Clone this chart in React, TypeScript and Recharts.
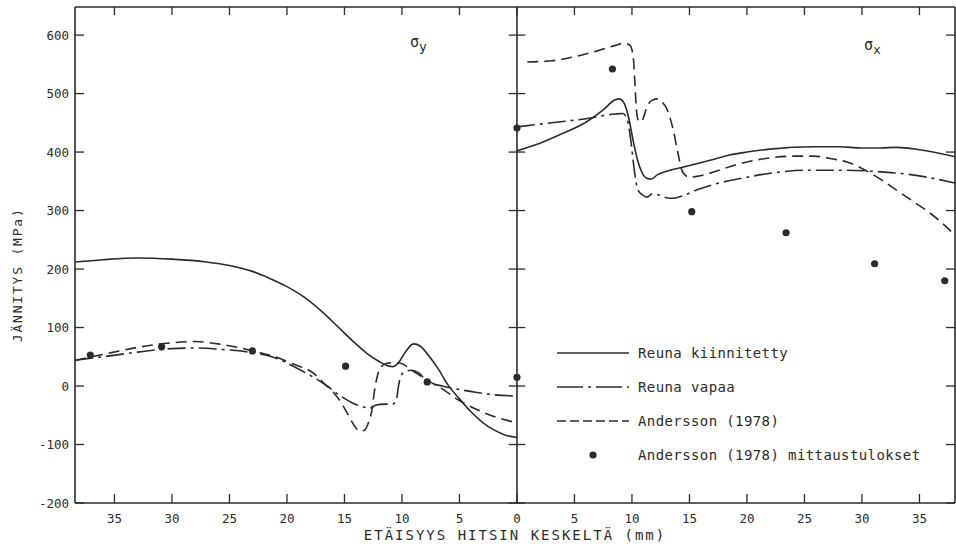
import React from 'react';
import { ComposedChart, Line, Scatter, XAxis, YAxis, ReferenceLine, Legend } from 'recharts';

const INK = '#2b2b2b';
const FONT = '"DejaVu Sans Mono", "Liberation Mono", monospace';

// distance from weld centre (mm), stress (MPa)
// sigma_y, left half
const syFixed: [number, number][] = [
  [38.4, 212], [36, 216], [33, 219], [30, 217], [27, 212], [25, 206], [23, 196], [21.5, 184],
  [20, 170], [18.5, 152], [17, 128], [15.5, 100], [14, 72], [13, 55], [12, 42], [11.3, 35],
  [10.8, 33], [10.3, 40], [9.7, 58], [9, 72], [8.4, 68], [7.6, 50], [6.8, 28], [6, 2],
  [5, -22], [4, -44], [3, -62], [2, -75], [1, -84], [0, -88],
];
const syFree: [number, number][] = [
  [38.4, 44], [36, 50], [33, 58], [30, 64], [28, 65], [26, 63], [23, 57], [21, 48], [19, 29],
  [17.7, 15], [16.5, 0], [15.7, -12], [14.3, -29], [13.3, -36], [12.8, -38], [12.3, -33],
  [11.5, -31], [10.8, -31], [10.5, -25], [10.3, 0], [10.1, 17], [9.7, 25], [9.2, 27],
  [8.5, 22], [7.8, 8], [6.5, 0], [5, -6], [3.5, -11], [2, -15], [0, -17],
];
const syAndersson: [number, number][] = [
  [38.4, 44], [36, 54], [33, 66], [30, 74], [28, 76], [26, 72], [24, 65], [23, 60], [21, 50],
  [19.5, 38], [17.7, 22], [16.8, 5], [16, -10], [15.3, -28], [14.8, -45], [14.2, -66],
  [13.7, -77], [13.3, -76], [12.9, -62], [12.6, -40], [12.4, -10], [12.1, 20], [11.8, 33],
  [11.3, 39], [10.6, 40], [10, 38], [9, 25], [7.8, 10], [6.5, -5], [5, -25], [3.5, -40],
  [2, -52], [0, -63],
];
const syMeasured: [number, number][] = [
  [37.1, 53], [30.9, 67], [23, 60], [14.9, 34], [7.8, 7], [0, 15],
];

// sigma_x, right half
const sxFixed: [number, number][] = [
  [0, 402], [2, 415], [4, 432], [6, 451], [7.5, 472], [8.5, 489], [8.9, 491], [9.3, 484],
  [9.7, 460], [10.1, 420], [10.5, 385], [10.9, 364], [11.3, 355], [11.7, 354], [12.2, 361],
  [13, 367], [14.4, 374], [16.8, 386], [18.5, 395], [20, 400], [22, 405], [25.8, 409],
  [28, 409], [30, 407], [31.6, 407], [33, 408], [35, 404], [38.1, 392],
];
const sxFree: [number, number][] = [
  [0, 443], [3, 450], [6, 457], [8.5, 465], [9.2, 466], [9.6, 455], [9.9, 420], [10.2, 370],
  [10.5, 336], [10.9, 327], [11.3, 323], [11.8, 329], [12.4, 326], [13, 322], [13.6, 321],
  [14.5, 326], [15.6, 335], [17, 344], [20, 357], [22.9, 366], [25, 369], [28.7, 369],
  [31, 367], [34.4, 361], [38.1, 347],
];
const sxAndersson: [number, number][] = [
  [0.9, 554], [3, 556], [5, 563], [7, 573], [8.5, 582], [9.3, 586], [9.8, 583], [10.1, 565],
  [10.25, 520], [10.4, 470], [10.6, 452], [10.9, 455], [11.3, 477], [11.7, 488], [12.2, 491],
  [12.6, 486], [13, 475], [13.6, 437], [14, 398], [14.4, 366], [15, 357], [15.5, 358],
  [16.8, 364], [18.5, 375], [20, 383], [22, 390], [24, 393], [25.8, 393], [27.5, 388],
  [28.7, 383], [30, 372], [31.5, 355], [33, 335], [34.5, 315], [35.9, 296], [37, 278],
  [38.1, 258],
];
const sxMeasured: [number, number][] = [
  [0, 441], [8.3, 542], [15.2, 298], [23.4, 262], [31.1, 209], [37.2, 180],
];

const seriesNames = ['Reuna kiinnitetty', 'Reuna vapaa', 'Andersson (1978)', 'Andersson (1978) mittaustulokset'];
const xTicks = [-35, -30, -25, -20, -15, -10, -5, 0, 5, 10, 15, 20, 25, 30, 35];
const yTicks = [-200, -100, 0, 100, 200, 300, 400, 500, 600];

const left = (pts: [number, number][]) => pts.map(([d, v]) => ({ x: -d, v }));
const right = (pts: [number, number][]) => pts.map(([d, v]) => ({ x: d, v }));

const DASH = ['', '18 5 3 5', '11 6'];

const BottomTick = (p: any) => (
  <g>
    <line x1={p.x} x2={p.x} y1={p.y} y2={p.y - 9} stroke={INK} strokeWidth={1.3} />
    <text x={p.x} y={p.y + 20} textAnchor="middle" fontSize={12.5} fontFamily={FONT} fill={INK}>
      {Math.abs(p.payload.value)}
    </text>
  </g>
);
const TopTick = (p: any) => (
  <line x1={p.x} x2={p.x} y1={p.y} y2={p.y + 8} stroke={INK} strokeWidth={1.3} />
);
const LeftTick = (p: any) => (
  <g>
    <line x1={p.x} x2={p.x + 9} y1={p.y} y2={p.y} stroke={INK} strokeWidth={1.3} />
    <text x={p.x - 6} y={p.y + 4.5} textAnchor="end" fontSize={12.5} fontFamily={FONT} fill={INK}>
      {p.payload.value}
    </text>
  </g>
);
const RightTick = (p: any) => (
  <line x1={p.x} x2={p.x - 9} y1={p.y} y2={p.y} stroke={INK} strokeWidth={1.3} />
);

const Dot = (p: any) => <circle cx={p.cx} cy={p.cy} r={3.6} fill={INK} />;

const LegendBox = (props: any) => {
  const seen = new Set<string>();
  const items = (props.payload || [])
    .filter((e: any) => seriesNames.includes(e.value) && !seen.has(e.value) && seen.add(e.value))
    .sort((a: any, b: any) => seriesNames.indexOf(a.value) - seriesNames.indexOf(b.value));
  return (
    <div style={{ fontFamily: FONT, fontSize: 14, color: INK, letterSpacing: 0.4, whiteSpace: 'nowrap' }}>
      {items.map((e: any) => {
        const i = seriesNames.indexOf(e.value);
        return (
          <div key={e.value} style={{ height: 34, display: 'flex', alignItems: 'center' }}>
            <svg width={72} height={10} style={{ marginRight: 9, flex: 'none' }}>
              {i < 3 ? (
                <line x1={0} x2={72} y1={5} y2={5} stroke={INK} strokeWidth={1.6}
                  strokeDasharray={i === 1 ? '26 5 3 5' : i === 2 ? '9 4' : undefined} />
              ) : (
                <circle cx={36} cy={5} r={3.6} fill={INK} />
              )}
            </svg>
            <span>{e.value}</span>
          </div>
        );
      })}
    </div>
  );
};

export default function App() {
  const lineProps = {
    type: 'monotone' as const,
    dataKey: 'v',
    stroke: INK,
    strokeWidth: 1.6,
    dot: false,
    activeDot: false,
    isAnimationActive: false,
    xAxisId: 'b',
    yAxisId: 'l',
  };
  return (
    <div style={{ position: 'absolute', left: 0, top: 0, width: 956, height: 548, background: '#fff' }}>
      <ComposedChart width={956} height={548} margin={{ top: 0, right: 0, bottom: 0, left: 0 }}>
        <XAxis xAxisId="b" dataKey="x" type="number" domain={[-38.43, 38.09]} allowDataOverflow
          ticks={xTicks} interval={0} tickSize={0} tickMargin={0} tick={<BottomTick />} tickLine={false}
          axisLine={{ stroke: INK, strokeWidth: 1.6 }} height={45} />
        <XAxis xAxisId="t" dataKey="x" type="number" orientation="top" domain={[-38.43, 38.09]} allowDataOverflow
          ticks={xTicks} interval={0} tickSize={0} tickMargin={0} tick={<TopTick />} tickLine={false}
          axisLine={{ stroke: INK, strokeWidth: 1.6 }} height={7} />
        <YAxis yAxisId="l" type="number" domain={[-200, 648]} allowDataOverflow ticks={yTicks} interval={0}
          tickSize={0} tickMargin={0} tick={<LeftTick />} tickLine={false}
          axisLine={{ stroke: INK, strokeWidth: 1.6 }} width={75}
          label={({ viewBox }: any) => {
            const cx = 19;
            const cy = viewBox.y + viewBox.height * 0.54;
            return (
              <text x={cx} y={cy} transform={`rotate(-90 ${cx} ${cy})`} textAnchor="middle"
                fontSize={13} fontFamily={FONT} letterSpacing={1.8} fill={INK} dominantBaseline="middle">
                JÄNNITYS (MPa)
              </text>
            );
          }} />
        <YAxis yAxisId="r" orientation="right" type="number" domain={[-200, 648]} allowDataOverflow ticks={yTicks}
          interval={0} tickSize={0} tickMargin={0} tick={<RightTick />} tickLine={false}
          axisLine={{ stroke: INK, strokeWidth: 1.6 }} width={1} />

        <ReferenceLine xAxisId="b" yAxisId="l" x={0} stroke={INK} strokeWidth={1.6} />
        {yTicks.map((t) => (
          <ReferenceLine key={t} xAxisId="b" yAxisId="l" stroke={INK} strokeWidth={1.3}
            segment={[{ x: -0.72, y: t }, { x: 0.72, y: t }]} />
        ))}

        <Line {...lineProps} data={left(syFixed)} name={seriesNames[0]} />
        <Line {...lineProps} data={left(syFree)} name={seriesNames[1]} strokeDasharray={DASH[1]} />
        <Line {...lineProps} data={left(syAndersson)} name={seriesNames[2]} strokeDasharray={DASH[2]} />
        <Line {...lineProps} data={right(sxFixed)} name={seriesNames[0] + ' x'} legendType="none" />
        <Line {...lineProps} data={right(sxFree)} name={seriesNames[1] + ' x'} strokeDasharray={DASH[1]} legendType="none" />
        <Line {...lineProps} data={right(sxAndersson)} name={seriesNames[2] + ' x'} strokeDasharray={DASH[2]} legendType="none" />
        <Scatter data={left(syMeasured)} dataKey="v" name={seriesNames[3]} xAxisId="b" yAxisId="l"
          shape={<Dot />} isAnimationActive={false} />
        <Scatter data={right(sxMeasured)} dataKey="v" name={seriesNames[3] + ' x'} xAxisId="b" yAxisId="l"
          shape={<Dot />} isAnimationActive={false} legendType="none" />

        <Legend layout="vertical" align="center" verticalAlign="middle" content={<LegendBox />}
          wrapperStyle={{ left: 557, top: 336, width: 390 }} />
      </ComposedChart>
      <div style={{ position: 'absolute', left: 410, top: 33, fontFamily: FONT, fontSize: 15, color: INK }}>
        σ<sub style={{ fontSize: 13 }}>y</sub>
      </div>
      <div style={{ position: 'absolute', left: 864, top: 36, fontFamily: FONT, fontSize: 15, color: INK }}>
        σ<sub style={{ fontSize: 13 }}>x</sub>
      </div>
      <div style={{ position: 'absolute', left: 0, width: 1030, top: 527, textAlign: 'center', fontFamily: FONT,
        fontSize: 14, letterSpacing: 2, color: INK }}>
        ETÄISYYS HITSIN KESKELTÄ (mm)
      </div>
    </div>
  );
}
